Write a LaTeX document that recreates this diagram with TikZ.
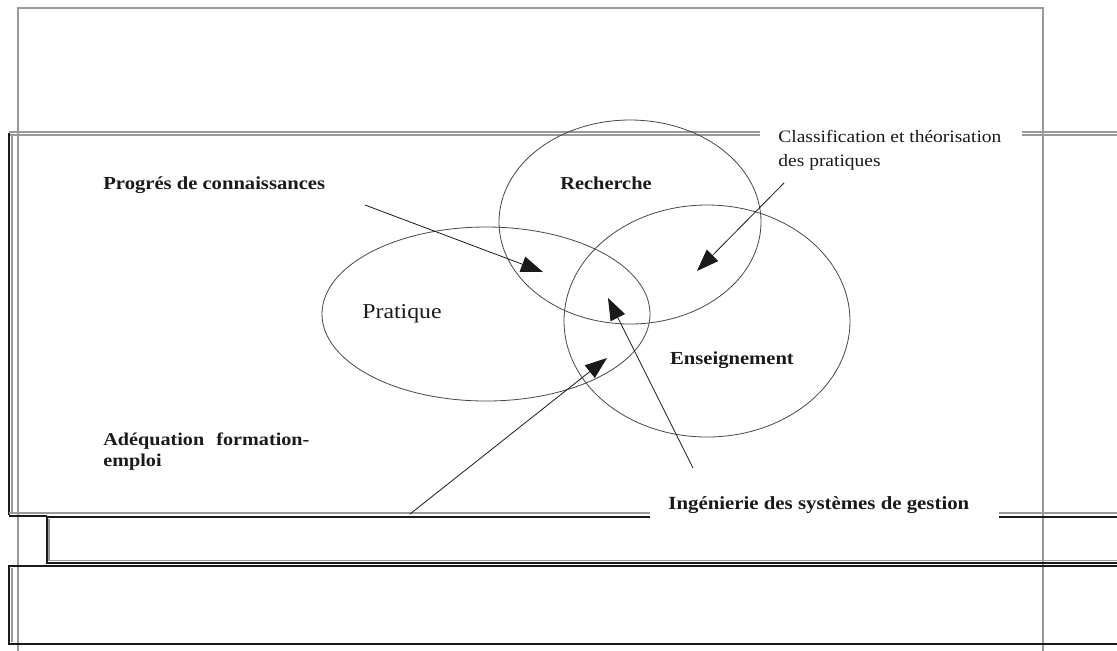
\documentclass[tikz,border=0pt]{standalone}
\usepackage{fontspec}
\setmainfont{Liberation Serif}[FakeStretch=1.12]
\usetikzlibrary{arrows.meta,shapes.geometric}
\definecolor{rule}{HTML}{9A9A9A}
\definecolor{ink}{HTML}{1A1A1A}

\begin{document}
\begin{tikzpicture}[
  x=0.5pt, y=-0.5pt,
  ell/.style={draw=ink!80, ellipse, thin, inner sep=0pt},
  lab/.style={font=\fontsize{9.5}{11}\selectfont\bfseries, text=ink, inner sep=0pt},
  frm/.style={draw=rule, line width=0.6pt},
  blk/.style={draw=ink, line width=1pt},
  arr/.style={-{Triangle[length=11pt,width=8pt]}, draw=ink, thin},
]
\useasboundingbox (0,0) rectangle (1117,650);
\fill[white] (0,0) rectangle (1117,650);

\draw[frm] (18,660) -- (18,8) -- (1043,8) -- (1043,660);

\draw[frm] (9,132) -- (760,132) (9,135) -- (760,135);
\draw[frm] (1022,132) -- (1117,132) (1022,135) -- (1117,135);
\draw[blk] (9,133) -- (9,515);
\draw[frm] (12,135) -- (12,513);
\draw[frm] (9,513) -- (650,513) (999,513) -- (1117,513);
\draw[blk] (9,515.5) -- (47,515.5);

\draw[blk] (47,517) -- (650,517) (999,517) -- (1117,517);
\draw[blk] (47,517) -- (47,563) -- (1117,563);
\draw[frm] (49,519) -- (49,561);
\draw[frm] (49,560.5) -- (1117,560.5);

\draw[blk] (1117,566) -- (9,566) -- (9,644) -- (1117,644);
\draw[frm] (12,568) -- (12,642);

\node[ell, minimum width=131pt, minimum height=102pt] (rech) at (630,222) {};
\node[ell, minimum width=164pt, minimum height=87pt] (prat) at (486,314) {};
\node[ell, minimum width=143pt, minimum height=116pt] (ens) at (707,321) {};

\node[lab, font=\fontsize{9.1}{11}\selectfont\bfseries] (trech) at (606,183) {Recherche};
\node[lab, font=\fontsize{10.6}{13}\selectfont] (tprat) at (402,314) {Pratique};
\node[lab, font=\fontsize{9.2}{11}\selectfont\bfseries] (tens) at (732,360) {Enseignement};

\node[lab, anchor=west, font=\fontsize{9.2}{11}\selectfont\bfseries] (prog) at (103,185) {Progrés de connaissances};
\node[lab, anchor=north west, align=left, text width=103pt, font=\fontsize{9}{10.5}\selectfont\bfseries] (adeq) at (103,432) {Adéquation\hfill formation-\\emploi};
\node[lab, anchor=west, font=\fontsize{8.7}{12}\selectfont, align=left] (classif) at (778,150) {Classification et théorisation\\des pratiques};
\node[lab, anchor=west, font=\fontsize{9.3}{11}\selectfont\bfseries] (inge) at (668,505) {Ingénierie des systèmes de gestion};

\coordinate (p1) at (365,205);
\coordinate (h1) at (543,272);
\coordinate (p2) at (784,183);
\coordinate (h2) at (697,271);
\coordinate (p3) at (693,468);
\coordinate (h3) at (608,298);
\coordinate (p4) at (410,514);
\coordinate (h4) at (607,358);

\draw[arr] (p1) -- (h1);
\draw[arr] (p2) -- (h2);
\draw[arr] (p3) -- (h3);
\draw[arr] (p4) -- (h4);

\end{tikzpicture}
\end{document}
